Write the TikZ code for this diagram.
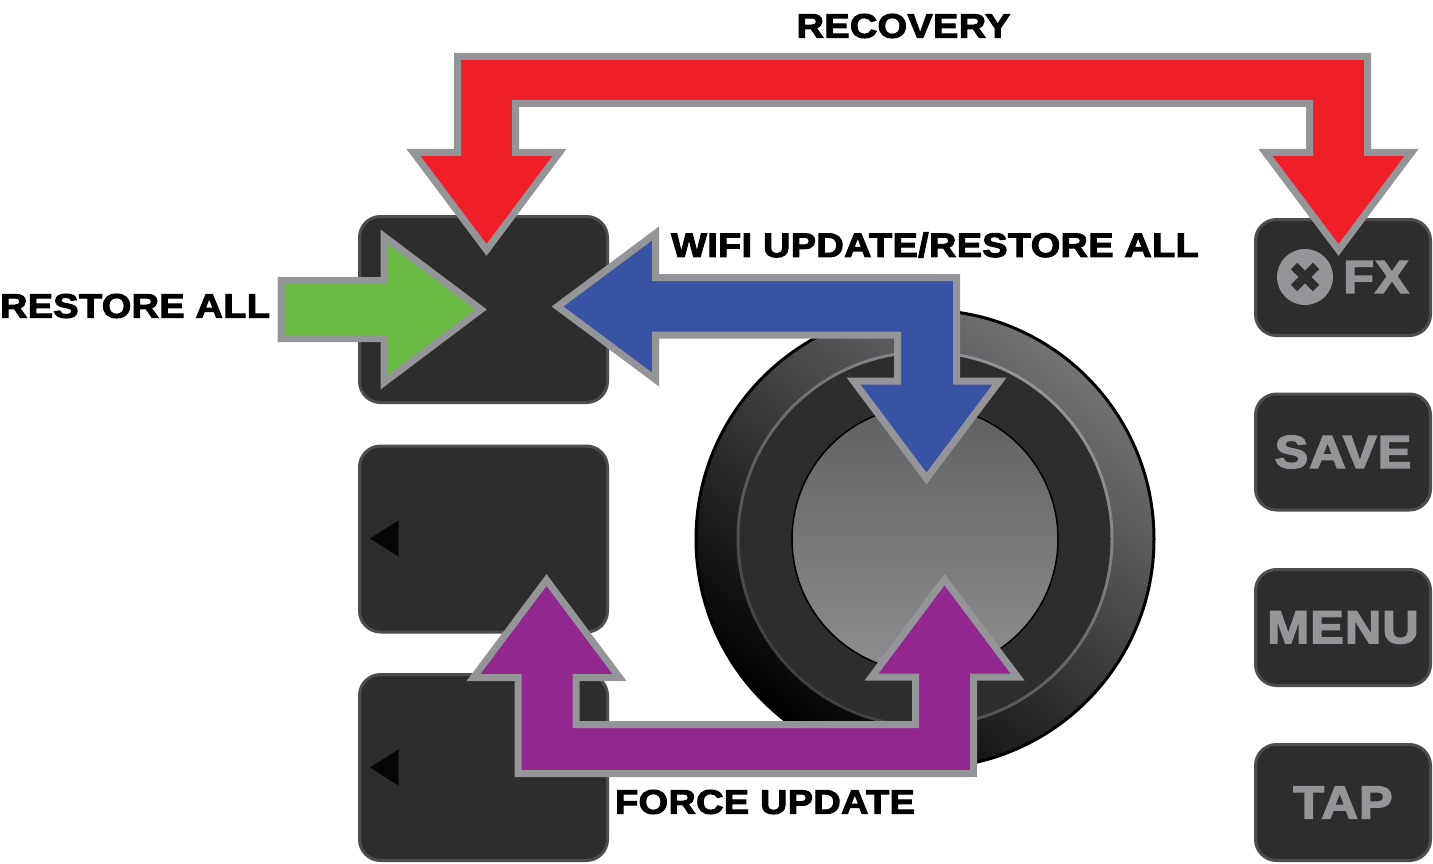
\documentclass[tikz,border=0pt]{standalone}
\usepackage{fontspec}
\newfontfamily\labfont[FakeBold=3,FakeStretch=1.115,LetterSpace=1]{Liberation Sans Bold}
\newfontfamily\btnfont[FakeBold=3.2,FakeStretch=1.10,LetterSpace=2]{Liberation Sans Bold}
\definecolor{btn}{HTML}{2D2D2D}
\definecolor{btnedge}{HTML}{4D4D4F}
\definecolor{arrowedge}{HTML}{939598}
\definecolor{redarrow}{HTML}{EE1F27}
\definecolor{greenarrow}{HTML}{6BBC45}
\definecolor{bluearrow}{HTML}{3953A4}
\definecolor{purplearrow}{HTML}{92278F}
\definecolor{btntext}{HTML}{939598}
\definecolor{tri}{HTML}{050608}
\definecolor{knoblight}{HTML}{727375}
\definecolor{ringdark}{HTML}{404042}
\definecolor{disktop}{HTML}{5F6161}
\definecolor{diskbottom}{HTML}{8C8E90}
\tikzset{
  x=1pt,y=-1pt,
  panelkey/.style={draw=btnedge,fill=btn,line width=3pt,rounded corners=21pt,minimum width=248pt,minimum height=186pt,inner sep=0pt},
  sidekey/.style={draw=btnedge,fill=btn,line width=3pt,rounded corners=21pt,minimum width=175pt,minimum height=116pt,inner sep=0pt,text=btntext,font=\btnfont\fontsize{46}{46}\selectfont},
  bigarrow/.style={draw=arrowedge,line width=7pt,miter limit=10,line join=miter},
  lab/.style={inner sep=0pt,font=\labfont\fontsize{34}{34}\selectfont,text=black}
}
\begin{document}
\begin{tikzpicture}
\useasboundingbox (0,0) rectangle (1433,864);
% knob
\path[shading=axis,top color=knoblight,bottom color=black,shading angle=-38] (925,539) circle[radius=229];
\draw[black,line width=3pt] (925,539) circle[radius=229];
\path[shading=axis,top color=arrowedge,bottom color=ringdark,shading angle=-38] (925,539) circle[radius=188.5];
\fill[btn] (925,539) circle[radius=185.5];
\path[shading=axis,top color=disktop,bottom color=diskbottom] (925,539) circle[radius=133];
\draw[black,line width=1.5pt] (925,539) circle[radius=133];
% keys
\node[panelkey] (k1) at (483.5,309.5) {};
\node[panelkey] (k2) at (483.5,539) {};
\node[panelkey] (k3) at (483.5,767.5) {};
\fill[tri] (370,538.5) -- (398.5,520.5) -- (398.5,556.5) -- cycle;
\fill[tri] (370,767.5) -- (398.5,749.5) -- (398.5,785.5) -- cycle;
\node[sidekey] (fx) at (1343,277.5) {};
\node[sidekey] (save) at (1343,452) {SAVE};
\node[sidekey] (menu) at (1343,627.5) {MENU};
\node[sidekey] (tap) at (1343,802.5) {TAP};
\fill[btntext] (1305,277) circle[radius=28];
\draw[btn,line width=9pt] (1294,266) -- (1316,288) (1316,266) -- (1294,288);
\node[font=\btnfont\fontsize{46}{46}\selectfont,text=btntext,inner sep=0pt] (fxt) at (1376,277) {FX};
% arrows
\draw[bigarrow,fill=redarrow] (457.5,56.5) -- (1367.5,56.5) -- (1367.5,152.5) -- (1411.5,152.5) -- (1338.5,250) -- (1265.5,152.5) -- (1309.5,152.5) -- (1309.5,103.5) -- (515.5,103.5) -- (515.5,152.5) -- (559.5,152.5) -- (486.5,250) -- (413.5,152.5) -- (457.5,152.5) -- cycle;
\draw[bigarrow,fill=greenarrow] (281,280.5) -- (384,280.5) -- (384,236.5) -- (481,309.5) -- (384,382.5) -- (384,338.5) -- (281,338.5) -- cycle;
\draw[bigarrow,fill=bluearrow] (557.5,306.5) -- (655.5,233.5) -- (655.5,277.5) -- (956.5,277.5) -- (956.5,381) -- (999.5,381) -- (926.5,478.5) -- (853.5,381) -- (897.5,381) -- (897.5,335) -- (655.5,335) -- (655.5,379.5) -- cycle;
\draw[bigarrow,fill=purplearrow] (546.5,580) -- (619.5,677.5) -- (576,677.5) -- (576,724.5) -- (915.7,724.5) -- (915.7,677) -- (871.5,677) -- (944.5,579.5) -- (1017.5,677) -- (973.5,677) -- (973.5,773.5) -- (518,773.5) -- (518,677.5) -- (473.5,677.5) -- cycle;
% labels
\node[lab] (l1) at (903.5,26) {RECOVERY};
\node[lab] (l2) at (935,245) {WIFI UPDATE/RESTORE ALL};
\node[lab] (l3) at (135,306) {RESTORE ALL};
\node[lab] (l4) at (765,802) {FORCE UPDATE};
\end{tikzpicture}
\end{document}
